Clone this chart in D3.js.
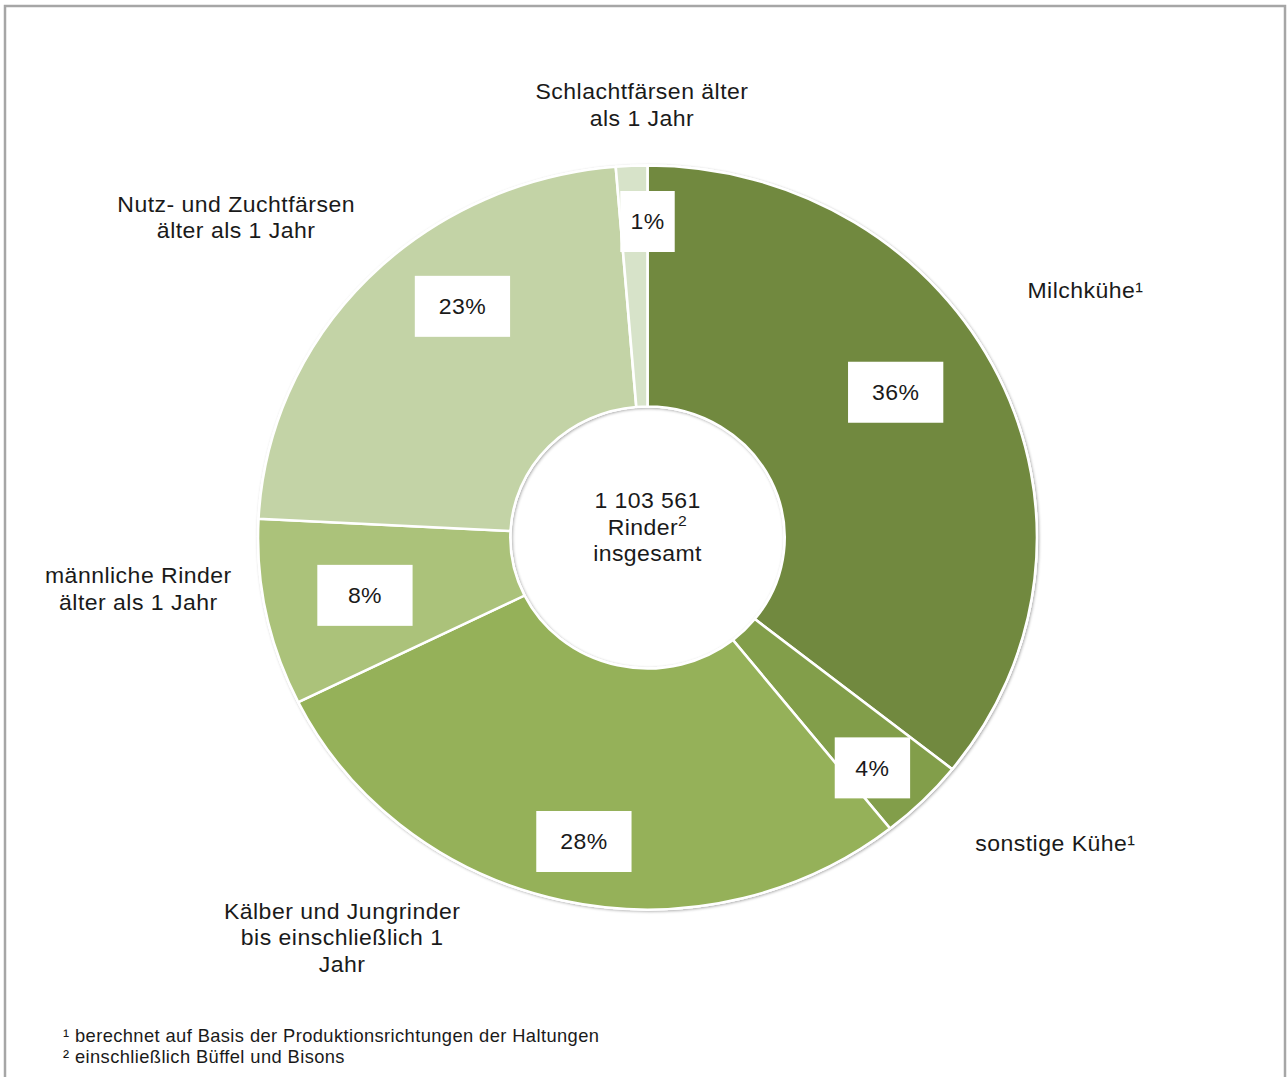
<!DOCTYPE html>
<html>
<head>
<meta charset="utf-8">
<script src="https://cdn.jsdelivr.net/npm/d3@7"></script>
<style>
  body { margin: 0; background: #fff; }
  text { font-family: "Liberation Sans", Arial, sans-serif; fill: #1a1a1a; }
</style>
</head>
<body>
<svg id="chart" width="1288" height="1077"></svg>
<script>
// data
var categories = ["Milchkühe¹", "sonstige Kühe¹", "Kälber und Jungrinder|bis einschließlich 1|Jahr",
                  "männliche Rinder|älter als 1 Jahr", "Nutz- und Zuchtfärsen|älter als 1 Jahr",
                  "Schlachtfärsen älter|als 1 Jahr"];
var shares = [35.7, 3.6, 28.4, 8.1, 22.9, 1.3];
var totalLines = ["1 103 561", "Rinder", "insgesamt"];
var footnotes = ["¹ berechnet auf Basis der Produktionsrichtungen der Haltungen",
                 "² einschließlich Büffel und Bisons"];

// layout
var W = 1288, H = 1077;
var sx = 1.047;               // the picture is a bit wider than tall
var cx = 647.5 / sx, cy = 537.5;
var rOuter = 372, rInner = 131;
var colors = ["#71893f", "#829e4a", "#95b159", "#abc27a", "#c3d3a6", "#d7e3c9"];
// where Excel put the boxes and names: [angle deg, radius]
var boxAt  = [[58.5, 278], [137, 315], [191.3, 310], [257.9, 276], [322.6, 291], [0, 316]];
var boxW   = [91, 72, 91, 91, 91, 52];
var nameAt = [[59.4, 486], [128.1, 495], [216.1, 495], [264, 489], [309.2, 507], [-0.7, 433]];

function polar(a, r) {
    var t = a * Math.PI / 180;
    return [r * Math.sin(t), -r * Math.cos(t)];
}

var svg = d3.select("#chart");

svg.append("rect")
    .attr("x", 5).attr("y", 6).attr("width", 1280).attr("height", 1100)
    .attr("fill", "none").attr("stroke", "#a6a6a6").attr("stroke-width", 2.5);

var defs = svg.append("defs");
var f = defs.append("filter").attr("id", "shadow")
    .attr("x", "-10%").attr("y", "-10%").attr("width", "120%").attr("height", "120%");
f.append("feDropShadow").attr("dx", 1).attr("dy", 1).attr("stdDeviation", 1.6)
    .attr("flood-color", "#000").attr("flood-opacity", 0.35);

var root = svg.append("g").attr("transform", "scale(" + sx + ",1)");
var g = root.append("g").attr("transform", "translate(" + cx + "," + cy + ")");

var pie = d3.pie().sort(null).value(function(d) { return d; });
var arc = d3.arc().innerRadius(rInner).outerRadius(rOuter);
var arcs = pie(shares);

// ring outline with shadow
g.append("path")
    .attr("d", d3.arc().innerRadius(rInner).outerRadius(rOuter).startAngle(0).endAngle(2 * Math.PI)())
    .attr("fill", "#fff").attr("stroke", "#fff").attr("stroke-width", 2)
    .attr("filter", "url(#shadow)");

g.selectAll("path.slice").data(arcs).enter().append("path")
    .attr("class", "slice")
    .attr("d", arc)
    .attr("fill", function(d, i) { return colors[i]; })
    .attr("stroke", "#fff").attr("stroke-width", 2.5)
    .attr("stroke-linejoin", "round");

// percent boxes
var boxes = g.selectAll("g.box").data(arcs).enter().append("g")
    .attr("class", "box")
    .attr("transform", function(d, i) {
        var p = polar(boxAt[i][0], boxAt[i][1]);
        return "translate(" + p[0] + "," + p[1] + ")";
    });
boxes.append("rect")
    .attr("x", function(d, i) { return -boxW[i] / 2; })
    .attr("y", -30.5).attr("width", function(d, i) { return boxW[i]; }).attr("height", 61)
    .attr("fill", "#fff");
boxes.append("text")
    .attr("text-anchor", "middle").attr("dy", "0.36em")
    .style("font-size", "22px").style("letter-spacing", "0.4px")
    .text(function(d) { return Math.round(d.data) + "%"; });

// category names
var lineH = 26.5;
g.selectAll("text.name").data(categories).enter().append("text")
    .attr("class", "name")
    .attr("text-anchor", "middle")
    .style("font-size", "22px").style("letter-spacing", "0.45px")
    .each(function(d, i) {
        var lines = d.split("|");
        var p = polar(nameAt[i][0], nameAt[i][1]);
        var t = d3.select(this);
        lines.forEach(function(l, k) {
            t.append("tspan")
                .attr("x", p[0])
                .attr("y", p[1] + (k - (lines.length - 1) / 2) * lineH)
                .attr("dy", "0.36em")
                .text(l);
        });
    });

// total in the hole
var tot = g.append("text").attr("text-anchor", "middle")
    .style("font-size", "22px").style("letter-spacing", "0.4px");
totalLines.forEach(function(l, k) {
    tot.append("tspan").attr("x", 0).attr("y", -37 + k * 26.5).attr("dy", "0.36em").text(l);
    if (k === 1) {
        tot.append("tspan").attr("dy", "-0.6em").style("font-size", "15px").text("2");
    }
});

// footnotes
root.selectAll("text.foot").data(footnotes).enter().append("text")
    .attr("class", "foot")
    .attr("x", 63 / sx)
    .attr("y", function(d, i) { return 1042 + i * 21; })
    .style("font-size", "17.5px").style("letter-spacing", "0.38px")
    .text(function(d) { return d; });
</script>
</body>
</html>
